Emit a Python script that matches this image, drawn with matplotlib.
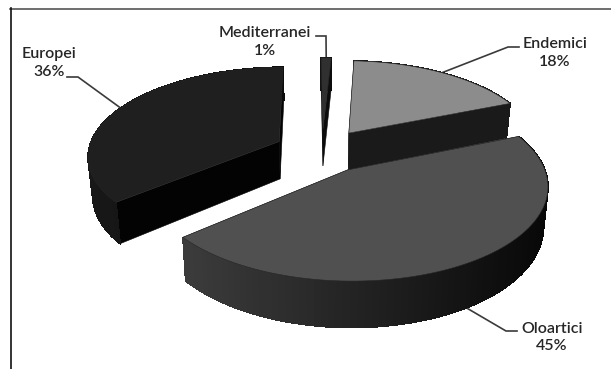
import numpy as np
import matplotlib
matplotlib.use("Agg")
import matplotlib.pyplot as plt
from matplotlib.collections import PolyCollection

# Share of each chorological group, in percent, clockwise from the top
categories = ["Mediterranei", "Endemici", "Oloartici", "Europei"]
shares = [1, 18, 45, 36]

top_colors = ["#303030", "#8c8c8c", "#505050", "#1f1f1f"]
cut_colors = ["#0c0c0c", "#1a1a1a", "#222222", "#030303"]
rim_left = ["#141414", "#1a1a1a", "#3c3c3c", "#181818"]
rim_right = ["#0c0c0c", "#1a1a1a", "#080808", "#0c0c0c"]
label_centres = [(265, 42), (555, 53), (552, 337.5), (49, 63)]
elbows = [(326, 36), (508, 47), (506, 331), (78, 77)]
label_ends = [(316, 36), (519, 47), (517, 331), (67, 77)]

plt.rcParams["font.family"] = ["Lato", "DejaVu Sans"]

# Projection of the tilted pie onto the page
CX, CY = 322.0, 150.5
RX, RY = 191.0, 88.0
PERSP = 0.15
EXPLODE = 0.25
DEPTH = 38.0
START = 90.6


def project(x, y):
    s = 1.0 / (1.0 + PERSP * y)
    return CX + RX * x * s, CY - RY * y * s, s


def lower(px, py, s):
    return CX + (px - CX) * 0.98, py + DEPTH * s


fig = plt.figure(figsize=(6.11, 3.69), dpi=100)
ax = fig.add_axes([0, 0, 1, 1])
ax.set_xlim(0, 611)
ax.set_ylim(369, 0)
ax.axis("off")

# Frame along the top and left only
ax.plot([10, 611], [8.5, 8.5], color="#555555", lw=1.2, zorder=1)
ax.plot([10.5, 10.5], [8, 369], color="#111111", lw=1.2, zorder=1)

fractions = np.array(shares) / sum(shares)
ends = START - 360 * np.cumsum(fractions)
begins = ends + 360 * fractions
mids = (begins + ends) / 2

# Back slices first so the large front slice overlaps them
draw_order = [0, 3, 1, 2]
for z, i in enumerate(draw_order):
    theta = np.radians(np.linspace(begins[i], ends[i], 90))
    mid = np.radians(mids[i])
    ox, oy = EXPLODE * np.cos(mid), EXPLODE * np.sin(mid)
    px, py, ps = project(ox + np.cos(theta), oy + np.sin(theta))
    qx, qy = lower(px, py, ps)
    ax_, ay_, as_ = project(ox, oy)
    bx_, by_ = lower(ax_, ay_, as_)
    base = 10 + z * 5

    # Two radial cut faces
    for k in (0, -1):
        ax.fill([ax_, px[k], qx[k], bx_], [ay_, py[k], qy[k], by_],
                color=cut_colors[i], lw=0.4, zorder=base)

    # Curved rim: smooth outline in the mean shade, then a left-to-right ramp
    left = np.array(matplotlib.colors.to_rgb(rim_left[i]))
    right = np.array(matplotlib.colors.to_rgb(rim_right[i]))
    ax.fill(np.r_[px, qx[::-1]], np.r_[py, qy[::-1]],
            color=(left + right) / 2, lw=0.6, zorder=base + 1)
    xmin, xmax = px.min(), px.max()
    quads, shades = [], []
    for j in range(len(px) - 1):
        t = (px[j] - xmin) / max(xmax - xmin, 1)
        quads.append([(px[j], py[j]), (px[j + 1], py[j + 1]),
                      (qx[j + 1], qy[j + 1]), (qx[j], qy[j])])
        shades.append(left + (right - left) * t)
    ax.add_collection(PolyCollection(quads, facecolors=shades, edgecolors=shades,
                                     linewidths=0.5, antialiased=False, zorder=base + 1))

    # Top face
    ax.fill(np.r_[ax_, px], np.r_[ay_, py], facecolor=top_colors[i],
            edgecolor="#262626", lw=0.4, zorder=base + 2)

    # Label and leader line
    ex, ey, es = project(ox + np.cos(mid), oy + np.sin(mid))
    if np.sin(mid) < 0:
        ex, ey = lower(ex, ey, es)
    if categories[i] == "Mediterranei":
        ey = py.min()
    ax.plot([label_ends[i][0], elbows[i][0], ex], [label_ends[i][1], elbows[i][1], ey],
            color="#3a3a3a", lw=1.2, zorder=5, solid_joinstyle="miter")
    ax.text(*label_centres[i], f"{categories[i]}\n{shares[i]}%", ha="center", va="center",
            fontsize=11.5, fontweight="semibold", color="#262626", linespacing=1.35, zorder=40)

fig.savefig("out.png", dpi=100)
